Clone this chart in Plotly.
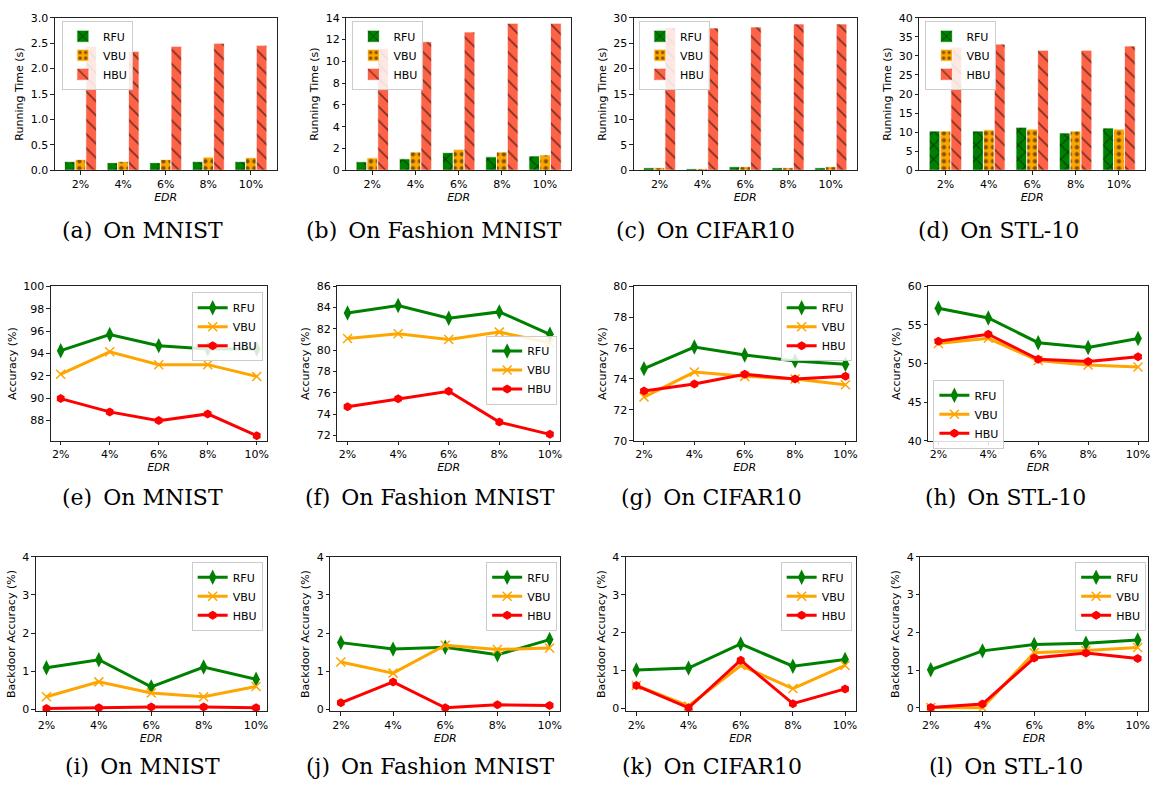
import plotly.graph_objects as go

EDR = ["2%", "4%", "6%", "8%", "10%"]
METHODS = ["RFU", "VBU", "HBU"]

# Running time (s)
rt_mnist = {"RFU": [0.17, 0.15, 0.15, 0.17, 0.17],
            "VBU": [0.21, 0.17, 0.21, 0.26, 0.25],
            "HBU": [2.44, 2.34, 2.44, 2.50, 2.46]}
rt_fashion = {"RFU": [0.78, 1.05, 1.62, 1.23, 1.32],
              "VBU": [1.14, 1.68, 1.92, 1.68, 1.41],
              "HBU": [11.2, 11.8, 12.7, 13.5, 13.5]}
rt_cifar = {"RFU": [0.50, 0.32, 0.70, 0.50, 0.50],
            "VBU": [0.50, 0.32, 0.70, 0.50, 0.70],
            "HBU": [28.1, 28.0, 28.2, 28.8, 28.8]}
rt_stl = {"RFU": [10.3, 10.3, 11.3, 9.8, 11.1],
          "VBU": [10.3, 10.6, 10.8, 10.3, 10.8],
          "HBU": [32.3, 33.1, 31.5, 31.5, 32.6]}

# Accuracy (%)
acc_mnist = {"RFU": [94.25, 95.70, 94.70, 94.40, 94.40],
             "VBU": [92.15, 94.15, 93.00, 93.00, 91.95],
             "HBU": [89.97, 88.78, 88.00, 88.60, 86.65]}
acc_fashion = {"RFU": [83.50, 84.20, 83.00, 83.60, 81.50],
               "VBU": [81.10, 81.55, 81.00, 81.70, 80.70],
               "HBU": [74.70, 75.45, 76.15, 73.25, 72.10]}
acc_cifar = {"RFU": [74.67, 76.07, 75.55, 75.17, 74.95],
             "VBU": [72.83, 74.45, 74.17, 74.00, 73.63],
             "HBU": [73.22, 73.67, 74.30, 74.00, 74.17]}
acc_stl = {"RFU": [57.17, 55.90, 52.70, 52.07, 53.25],
           "VBU": [52.60, 53.27, 50.40, 49.80, 49.55],
           "HBU": [52.90, 53.80, 50.55, 50.28, 50.87]}

# Backdoor accuracy (%)
bd_mnist = {"RFU": [1.09, 1.30, 0.59, 1.11, 0.79],
            "VBU": [0.33, 0.72, 0.43, 0.33, 0.60],
            "HBU": [0.02, 0.04, 0.06, 0.06, 0.04]}
bd_fashion = {"RFU": [1.75, 1.58, 1.63, 1.43, 1.83],
              "VBU": [1.24, 0.95, 1.68, 1.57, 1.61],
              "HBU": [0.17, 0.72, 0.04, 0.12, 0.10]}
bd_cifar = {"RFU": [1.01, 1.06, 1.70, 1.11, 1.29],
            "VBU": [0.60, 0.06, 1.13, 0.52, 1.13],
            "HBU": [0.60, 0.01, 1.27, 0.12, 0.51]}
bd_stl = {"RFU": [1.01, 1.51, 1.68, 1.71, 1.80],
          "VBU": [0.01, 0.00, 1.46, 1.52, 1.60],
          "HBU": [0.01, 0.10, 1.32, 1.45, 1.31]}

CAPTIONS = ["(a)", "(b)", "(c)", "(d)", "(e)", "(f)", "(g)", "(h)",
            "(i)", "(j)", "(k)", "(l)"]
DATASETS = ["MNIST", "Fashion MNIST", "CIFAR10", "STL-10"]

W, H = 1159, 794
SANS = "DejaVu Sans"
AX = "#222222"

BAR_COLORS = {"RFU": "#008000", "VBU": "#FFA500", "HBU": "#FF6347"}
BAR_PATTERNS = {
    "RFU": dict(shape="x", size=10, solidity=0.2),
    "VBU": dict(shape=".", size=7, solidity=0.3),
    "HBU": dict(shape="\\", size=10, solidity=0.18),
}
LINE_COLORS = {"RFU": "#008000", "VBU": "#FFA500", "HBU": "#FF0000"}
LINE_MARKERS = {
    "RFU": dict(symbol="diamond-tall", size=11),
    "VBU": dict(symbol="x-thin", size=9, line=dict(width=1.5, color="#FFA500")),
    "HBU": dict(symbol="hexagon", size=9),
}

# Panel geometry in pixels: (left, right, top, bottom)
PANELS = [
    (55, 277, 12, 167), (347, 572, 12, 167), (635, 858, 12, 167), (921, 1147, 12, 167),
    (51, 267, 285, 442), (338, 561, 285, 442), (635, 857, 285, 442), (930, 1150, 285, 442),
    (36, 267, 560, 717), (331, 561, 560, 717), (627, 857, 560, 717), (922, 1150, 560, 717),
]
# Legend top-left corners in pixels
LEGEND_POS = [
    (62, 15), (353, 15), (640, 15), (927, 15),
    (192, 291), (487, 335), (782, 291), (935, 380),
    (192, 565), (487, 565), (782, 565), (1077, 565),
]
CAPTION_POS = [
    (143, 228), (435, 228), (707, 228), (1000, 228),
    (143, 500), (431, 500), (713, 500), (1007, 500),
    (143, 773), (431, 773), (713, 773), (1008, 773),
]

panels = [
    ("bar", rt_mnist, [0, 3], 0.5, ".1f"),
    ("bar", rt_fashion, [0, 14], 2, None),
    ("bar", rt_cifar, [0, 30], 5, None),
    ("bar", rt_stl, [0, 40], 5, None),
    ("line", acc_mnist, [86.2, 100], 2, None),
    ("line", acc_fashion, [71.5, 86], 2, None),
    ("line", acc_cifar, [70, 80], 2, None),
    ("line", acc_stl, [40, 60], 5, None),
    ("line", bd_mnist, [-0.05, 4], 1, None),
    ("line", bd_fashion, [-0.05, 4], 1, None),
    ("line", bd_cifar, [-0.08, 4], 1, None),
    ("line", bd_stl, [-0.09, 4], 1, None),
]
YTITLES = ["Running Time (s)"] * 4 + ["Accuracy (%)"] * 4 + ["Backdoor Accuracy (%)"] * 4

fig = go.Figure()
layout = dict(
    width=W, height=H,
    margin=dict(l=0, r=0, t=0, b=0),
    paper_bgcolor="white", plot_bgcolor="white",
    barmode="group", bargap=0.25, bargroupgap=0,
    font=dict(family=SANS, size=11, color="black"),
    annotations=[],
)

for i, (kind, data, yr, dt, fmt) in enumerate(panels):
    k = i + 1
    xs = "" if k == 1 else str(k)
    lg = "legend" if k == 1 else f"legend{k}"
    for m in METHODS:
        if kind == "bar":
            fig.add_trace(go.Bar(
                x=EDR, y=data[m], name=m, xaxis=f"x{xs}", yaxis=f"y{xs}",
                legend=lg, offsetgroup=m,
                marker=dict(color=BAR_COLORS[m],
                            line=dict(color="white", width=0.8),
                            pattern=dict(BAR_PATTERNS[m], fgcolor="black",
                                         bgcolor=BAR_COLORS[m])),
            ))
        else:
            mk = dict(LINE_MARKERS[m])
            mk["color"] = LINE_COLORS[m]
            fig.add_trace(go.Scatter(
                x=EDR, y=data[m], name=m, mode="lines+markers",
                xaxis=f"x{xs}", yaxis=f"y{xs}", legend=lg,
                line=dict(color=LINE_COLORS[m], width=3), marker=mk,
            ))

    l, r, t, b = PANELS[i]
    common = dict(showline=True, mirror=True, linecolor=AX, linewidth=1,
                  ticks="outside", ticklen=3.5, tickcolor=AX, tickwidth=1,
                  showgrid=False, zeroline=False,
                  tickfont=dict(family=SANS, size=11, color="black"))
    layout[f"xaxis{xs}"] = dict(
        common, domain=[l / W, r / W], anchor=f"y{xs}",
        type="category",
        range=[-0.6, 4.6] if kind == "bar" else [-0.2, 4.2],
        title=dict(text="<i>EDR</i>", font=dict(family=SANS, size=11), standoff=2),
    )
    ya = dict(common, domain=[1 - b / H, 1 - t / H], anchor=f"x{xs}",
              range=yr, dtick=dt, tick0=0,
              title=dict(text=YTITLES[i], font=dict(family=SANS, size=11), standoff=4))
    if fmt:
        ya["tickformat"] = fmt
    layout[f"yaxis{xs}"] = ya

    lx, ly = LEGEND_POS[i]
    layout[lg] = dict(
        x=lx / W, y=1 - ly / H, xanchor="left", yanchor="top",
        xref="paper", yref="paper",
        bgcolor="rgba(255,255,255,0.85)", bordercolor="#cccccc", borderwidth=1,
        font=dict(family=SANS, size=11, color="black"),
        tracegroupgap=0, itemwidth=30,
    )

    cx, cy = CAPTION_POS[i]
    ds = DATASETS[i % 4]
    layout["annotations"].append(dict(
        x=cx / W, y=1 - cy / H, xref="paper", yref="paper",
        xanchor="center", yanchor="middle", showarrow=False,
        text=f"{CAPTIONS[i]}\u2002On {ds}",
        font=dict(family="DejaVu Serif", size=22, color="black"),
    ))

fig.update_layout(**layout)
fig.write_html("out.html")
